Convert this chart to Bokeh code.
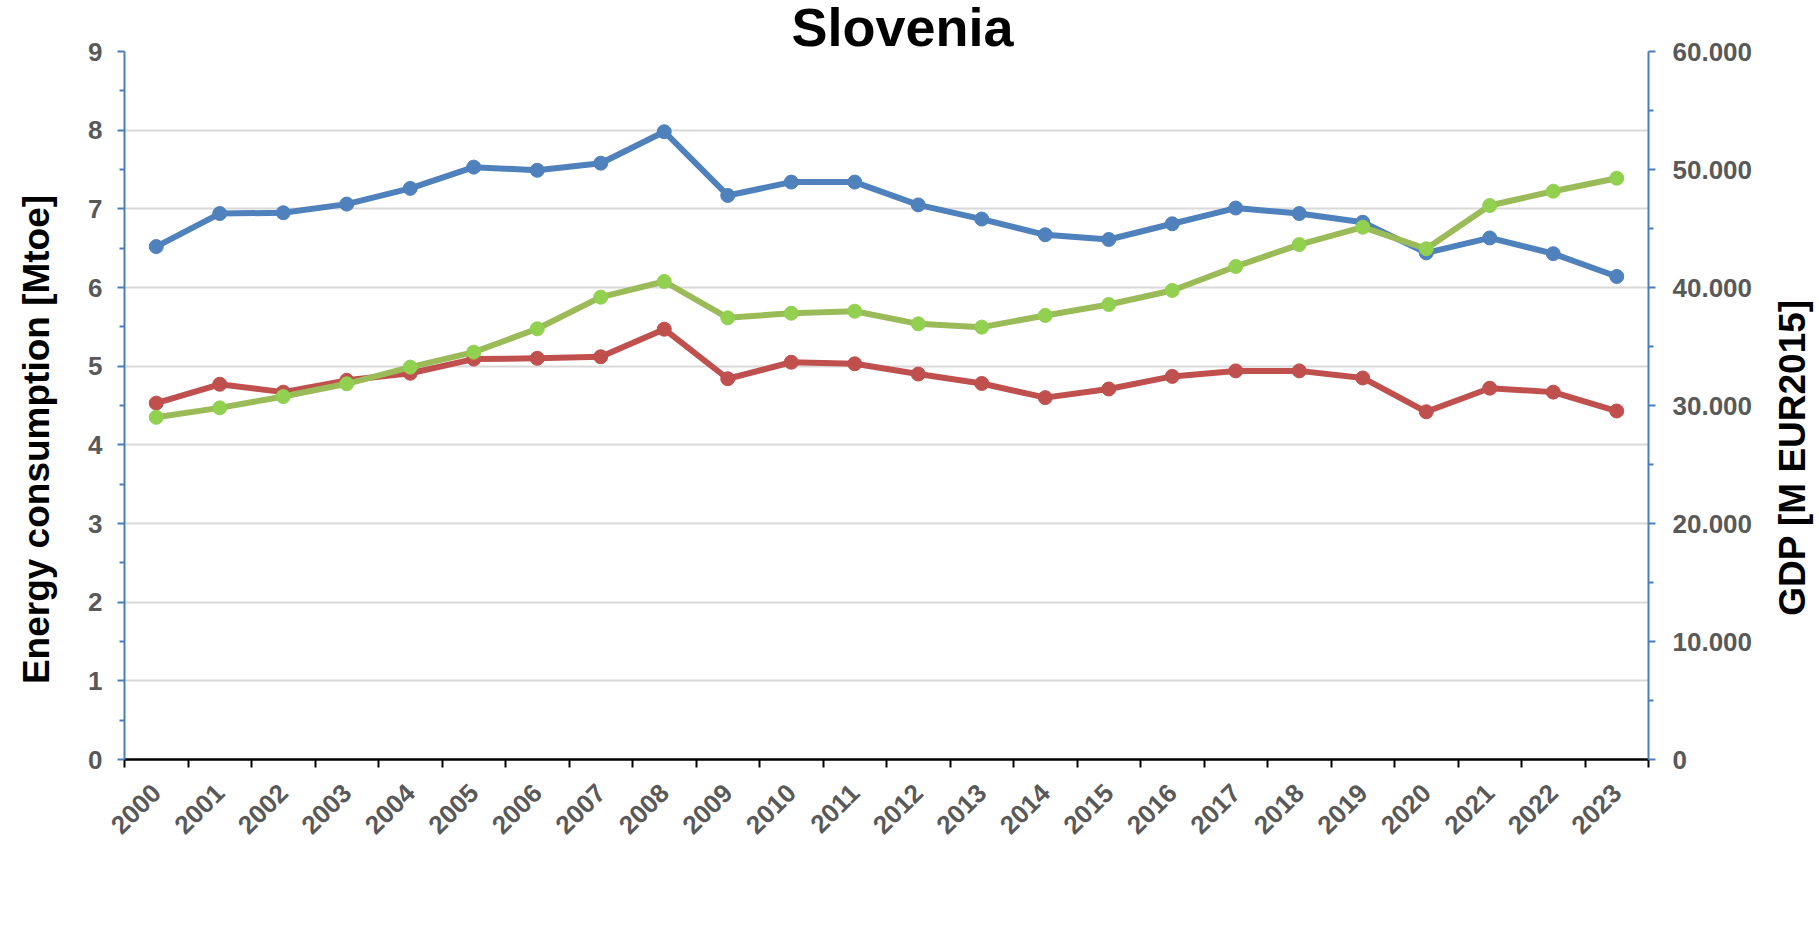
from math import pi
from bokeh.plotting import figure
from bokeh.models import (Range1d, LinearAxis, FixedTicker, Grid, Label, Legend, LegendItem,
                          CustomJSTickFormatter, ColumnDataSource, Title)
from bokeh.embed import file_html
from bokeh.resources import INLINE

# ---------------- data ----------------
years = ["2000", "2001", "2002", "2003", "2004", "2005", "2006", "2007", "2008", "2009",
         "2010", "2011", "2012", "2013", "2014", "2015", "2016", "2017", "2018", "2019",
         "2020", "2021", "2022", "2023"]
primary_energy = [6.52, 6.94, 6.95, 7.06, 7.26, 7.53, 7.49, 7.58, 7.98, 7.17,
                  7.34, 7.34, 7.05, 6.87, 6.67, 6.61, 6.81, 7.01, 6.94, 6.83,
                  6.44, 6.63, 6.43, 6.14]
final_energy = [4.53, 4.77, 4.67, 4.82, 4.91, 5.09, 5.10, 5.12, 5.47, 4.84,
                5.05, 5.03, 4.90, 4.78, 4.60, 4.71, 4.87, 4.94, 4.94, 4.85,
                4.42, 4.72, 4.67, 4.43]
gdp = [29000, 29800, 30760, 31840, 33250, 34520, 36500, 39180, 40510, 37430,
       37820, 37990, 36920, 36640, 37630, 38560, 39750, 41780, 43640, 45110,
       43280, 46950, 48160, 49260]
left_ticks = [0, 1, 2, 3, 4, 5, 6, 7, 8, 9]
right_ticks = [0, 10000, 20000, 30000, 40000, 50000, 60000]
right_tick_labels = ["0", "10.000", "20.000", "30.000", "40.000", "50.000", "60.000"]
series_names = ["Primary energy", "Final energy", "GDP at constant price 2015"]

# ---------------- style ----------------
FONT = "Liberation Sans"
BLUE = "#4F81BD"
RED = "#C0504D"
GREEN = "#9BBB59"
GREEN_MARK = "#92D050"
AXIS_BLUE = "#4A7EBB"
TICK_GRAY = "#595959"

n = len(years)
# category slot centres (category i occupies [i, i+1] on the x scale)
src = ColumnDataSource(dict(x=[i + 0.5 for i in range(n)], year=years,
                            primary=primary_energy, final=final_energy, gdp=gdp))

p = figure(x_range=Range1d(0, n),
           y_range=Range1d(left_ticks[0], left_ticks[-1]),
           frame_width=1524, frame_height=708,
           min_border_left=124, min_border_right=171,
           min_border_top=51, min_border_bottom=192,
           x_axis_location=None, y_axis_location=None,
           toolbar_location=None, output_backend="svg")
p.outline_line_color = None
p.background_fill_color = "white"
p.border_fill_color = "white"
p.grid.visible = False
p.extra_y_ranges = {"gdp": Range1d(right_ticks[0], right_ticks[-1])}

# title (drawn just above the frame)
p.add_layout(Title(text="Slovenia", text_font=FONT, text_font_style="bold",
                   text_font_size="54px", text_color="black",
                   align="left", offset=667, standoff=-11), "above")

# grid
p.add_layout(Grid(dimension=1, ticker=FixedTicker(ticks=left_ticks[1:]),
                  grid_line_color="#d9d9d9", grid_line_width=2), "center")

# x axes: boundary ticks + category labels
edge_axis = LinearAxis(ticker=FixedTicker(ticks=list(range(n + 1))),
                       formatter=CustomJSTickFormatter(code="return ''"),
                       axis_line_color="black", axis_line_width=2.5,
                       major_tick_line_color="black", major_tick_line_width=2,
                       major_tick_out=8, major_tick_in=0,
                       minor_tick_line_color=None, major_label_standoff=0,
                       major_label_text_font_size="1px")
p.add_layout(edge_axis, "below")

cat_axis = LinearAxis(ticker=FixedTicker(ticks=[i + 0.5 for i in range(n)]),
                      formatter=CustomJSTickFormatter(args=dict(yl=years),
                                                      code="const s = yl[Math.floor(tick)]; return s === undefined ? '' : s"),
                      axis_line_color=None, major_tick_line_color=None,
                      minor_tick_line_color=None,
                      major_label_orientation=pi / 4,
                      major_label_text_font=FONT, major_label_text_font_style="bold",
                      major_label_text_font_size="26px",
                      major_label_text_color=TICK_GRAY,
                      major_label_standoff=15,
                      axis_label=" ", axis_label_text_font_size="1px",
                      axis_label_standoff=58)
p.add_layout(cat_axis, "below")

# y axes
axis_style = dict(axis_line_color=AXIS_BLUE, axis_line_width=2,
                  major_tick_line_color=AXIS_BLUE, major_tick_line_width=2,
                  major_tick_out=7, major_tick_in=0,
                  minor_tick_line_color=AXIS_BLUE, minor_tick_line_width=2,
                  minor_tick_out=5, minor_tick_in=0,
                  major_label_text_font=FONT, major_label_text_font_style="bold",
                  major_label_text_font_size="26px", major_label_text_color=TICK_GRAY)

left_axis = LinearAxis(ticker=FixedTicker(ticks=left_ticks,
                                          minor_ticks=[t + 0.5 for t in left_ticks[:-1]]),
                       major_label_standoff=15, **axis_style)
p.add_layout(left_axis, "left")

right_axis = LinearAxis(y_range_name="gdp",
                        ticker=FixedTicker(ticks=right_ticks,
                                           minor_ticks=[t + 5000 for t in right_ticks[:-1]]),
                        formatter=CustomJSTickFormatter(
                            args=dict(rvals=right_ticks, rlabs=right_tick_labels),
                            code="const i = rvals.indexOf(tick); return i >= 0 ? rlabs[i] : ''"),
                        major_label_standoff=17, **axis_style)
p.add_layout(right_axis, "right")

# axis titles (placed in the side panels, next to the axes)
p.add_layout(Label(x=-8.5, y=320, x_units="screen", y_units="screen",
                   text="Energy consumption [Mtoe]", angle=pi / 2,
                   text_font=FONT, text_font_style="bold", text_font_size="37px",
                   text_color="black", text_align="center", text_baseline="alphabetic"),
             "left")
p.add_layout(Label(x=36.5, y=302, x_units="screen", y_units="screen",
                   text="GDP [M EUR2015]", angle=pi / 2,
                   text_font=FONT, text_font_style="bold", text_font_size="37px",
                   text_color="black", text_align="center", text_baseline="alphabetic"),
             "right")

# series
l1 = p.line("x", "primary", source=src, line_color=BLUE, line_width=6, line_join="round")
s1 = p.scatter("x", "primary", source=src, size=14, fill_color=BLUE, line_color=BLUE)
l2 = p.line("x", "final", source=src, line_color=RED, line_width=6, line_join="round")
s2 = p.scatter("x", "final", source=src, size=14, fill_color=RED, line_color=RED)
l3 = p.line("x", "gdp", source=src, y_range_name="gdp", line_color=GREEN, line_width=6,
            line_join="round")
s3 = p.scatter("x", "gdp", source=src, y_range_name="gdp", size=14,
               fill_color=GREEN_MARK, line_color=GREEN_MARK)

legend = Legend(items=[LegendItem(label=series_names[0], renderers=[l1, s1]),
                       LegendItem(label=series_names[1], renderers=[l2, s2]),
                       LegendItem(label=series_names[2], renderers=[l3, s3])],
                orientation="horizontal", location="top_center",
                label_text_font=FONT, label_text_font_style="bold",
                label_text_font_size="31px", label_text_color="black",
                glyph_width=58, glyph_height=36, label_height=36,
                label_standoff=5, spacing=111, padding=0, margin=0,
                border_line_color=None, background_fill_alpha=0)
p.add_layout(legend, "below")

open("out.html", "w").write(file_html(p, INLINE))
